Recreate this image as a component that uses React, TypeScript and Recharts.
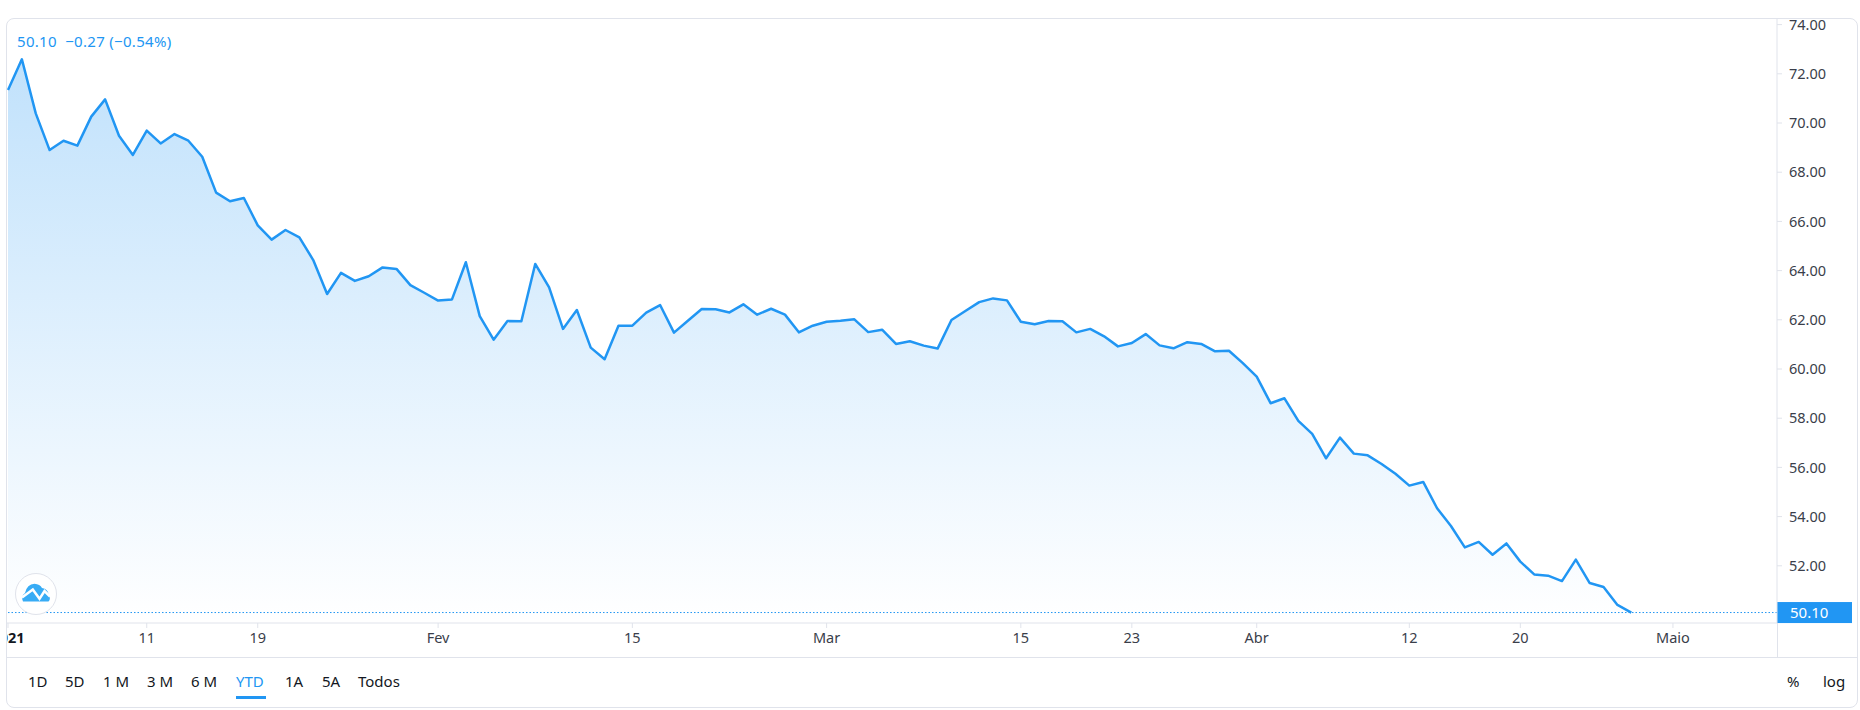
import { AreaChart, Area, XAxis, YAxis, ReferenceLine } from 'recharts';

const closes = [
  71.34, 72.59, 70.39, 68.9, 69.28, 69.08, 70.26, 70.96, 69.48, 68.7,
  69.69, 69.17, 69.55, 69.28, 68.63, 67.17, 66.82, 66.95, 65.84, 65.26,
  65.65, 65.35, 64.43, 63.05, 63.91, 63.58, 63.77, 64.13, 64.07, 63.41,
  63.1, 62.78, 62.83, 64.34, 62.15, 61.19, 61.95, 61.94, 64.27, 63.32,
  61.63, 62.4, 60.87, 60.4, 61.76, 61.76, 62.29, 62.6, 61.48, 61.96,
  62.44, 62.43, 62.3, 62.63, 62.21, 62.45, 62.21, 61.49, 61.76, 61.92,
  61.96, 62.02, 61.5, 61.6, 61.02, 61.13, 60.95, 60.83, 61.99, 62.36,
  62.72, 62.87, 62.79, 61.92, 61.82, 61.95, 61.94, 61.49, 61.63, 61.33,
  60.92, 61.06, 61.42, 60.96, 60.84, 61.09, 61.02, 60.72, 60.74, 60.24,
  59.69, 58.61, 58.81, 57.89, 57.36, 56.37, 57.21, 56.56, 56.49, 56.14,
  55.74, 55.26, 55.41, 54.34, 53.62, 52.75, 52.97, 52.45, 52.91, 52.17,
  51.65, 51.6, 51.38, 52.25, 51.3, 51.14, 50.41, 50.1,
];

const priceTicks = [52, 54, 56, 58, 60, 62, 64, 66, 68, 70, 72, 74];
const timeTickBars = [0, 10, 18, 31, 45, 59, 73, 81, 90, 101, 109, 120];
const timeTickLabels = ['2021', '11', '19', 'Fev', '15', 'Mar', '15', '23', 'Abr', '12', '20', 'Maio'];
const ranges = ['1D', '5D', '1 M', '3 M', '6 M', 'YTD', '1A', '5A', 'Todos'];
const rangeLefts = [28, 65, 103, 147, 191, 236, 285, 322, 358];

const LINE_COLOR = '#2196f3';
const BORDER_COLOR = '#e0e3eb';
const TEXT_COLOR = '#3a3e4a';
const FONT = '"Noto Sans", sans-serif';

const data = closes.map((close, bar) => ({ bar, close }));

function TimeTick({ x, y, payload }: any) {
  const i = timeTickBars.indexOf(payload.value);
  const isYear = timeTickLabels[i] === '2021';
  return (
    <text
      x={x}
      y={y + 13}
      textAnchor="middle"
      fontFamily={FONT}
      fontSize={14.5}
      fontWeight={isYear ? 700 : 400}
      fill={isYear ? '#131722' : TEXT_COLOR}
    >
      {timeTickLabels[i]}
    </text>
  );
}

function PriceTag({ viewBox }: any) {
  const right = viewBox.x + viewBox.width;
  return (
    <g>
      <rect x={right} y={viewBox.y - 10.5} width={75} height={21} fill={LINE_COLOR} />
      <text x={right + 13} y={viewBox.y + 5.5} fontFamily={FONT} fontSize={15} fill="#fff">
        50.10
      </text>
    </g>
  );
}

export default function App() {
  return (
    <div style={{ position: 'fixed', left: 0, top: 0, width: 1860, height: 710, background: '#fff', fontFamily: FONT }}>
      <div
        style={{
          position: 'absolute',
          left: 6,
          top: 18,
          width: 1850,
          height: 688,
          border: `1px solid ${BORDER_COLOR}`,
          borderRadius: 8,
          overflow: 'hidden',
        }}
      >
        <AreaChart width={1850} height={638} data={data} margin={{ top: 0, right: 0, bottom: 0, left: 0 }}>
          <defs>
            <linearGradient id="areaFill" x1="0" y1="0" x2="0" y2="1">
              <stop offset="0%" stopColor={LINE_COLOR} stopOpacity={0.28} />
              <stop offset="100%" stopColor={LINE_COLOR} stopOpacity={0} />
            </linearGradient>
          </defs>
          <XAxis
            dataKey="bar"
            type="number"
            domain={[-0.072, 127.5]}
            ticks={timeTickBars}
            interval={0}
            height={34}
            stroke={BORDER_COLOR}
            tickSize={5}
            tick={<TimeTick />}
          />
          <YAxis
            orientation="right"
            domain={[49.675, 74.228]}
            ticks={priceTicks}
            interval={0}
            width={80}
            stroke={BORDER_COLOR}
            tickSize={5}
            tickMargin={7}
            tick={{ fontFamily: FONT, fontSize: 14.5, fill: TEXT_COLOR }}
            tickFormatter={(v: number) => v.toFixed(2)}
          />
          <Area
            type="linear"
            dataKey="close"
            baseValue={49.675}
            stroke={LINE_COLOR}
            strokeWidth={2.5}
            strokeLinejoin="round"
            fill="url(#areaFill)"
            fillOpacity={1}
            isAnimationActive={false}
            dot={false}
            activeDot={false}
          />
          <ReferenceLine y={50.1} stroke={LINE_COLOR} strokeDasharray="1.5 2" label={<PriceTag />} />
        </AreaChart>
        <div style={{ position: 'absolute', left: 1770, top: 604, width: 1, height: 34, background: BORDER_COLOR }} />
        <div style={{ position: 'absolute', left: 0, top: 638, width: 1850, height: 1, background: BORDER_COLOR }} />
        <div
          style={{
            position: 'absolute',
            left: 10,
            top: 12,
            fontSize: 15,
            letterSpacing: 0.3,
            lineHeight: '20px',
            color: LINE_COLOR,
            whiteSpace: 'pre',
          }}
        >
          50.10  −0.27 (−0.54%)
        </div>
        <div
          style={{
            position: 'absolute',
            left: 8,
            top: 554,
            width: 42,
            height: 42,
            boxSizing: 'border-box',
            border: `1.5px solid ${BORDER_COLOR}`,
            borderRadius: '50%',
            background: '#fff',
          }}
        >
          <svg width={39} height={39} viewBox="0 0 39 39">
            <path
              d="M7 27.5 Q4.5 22 9 19 Q11 10 18.5 9.7 Q24 10 26 14 Q32 15 33 21 Q35 25 32.5 27.5 Z"
              fill="#38acf5"
            />
            <path d="M6 23.5 L16.8 15.5 L23.5 24.8 L28.5 17 L34 22.5" fill="none" stroke="#fff" strokeWidth={2.5} />
          </svg>
        </div>
        {ranges.map((label, i) => (
          <div
            key={label}
            style={{
              position: 'absolute',
              left: rangeLefts[i] - 7,
              top: 652,
              fontSize: 15,
              lineHeight: '20px',
              whiteSpace: 'pre',
              color: label === 'YTD' ? LINE_COLOR : '#131722',
            }}
          >
            {label}
          </div>
        ))}
        <div style={{ position: 'absolute', left: 229, top: 677, width: 30, height: 3, background: LINE_COLOR }} />
        <div style={{ position: 'absolute', left: 1780, top: 652, fontSize: 15, lineHeight: '20px', color: '#131722' }}>%</div>
        <div style={{ position: 'absolute', left: 1816, top: 652, fontSize: 15, lineHeight: '20px', color: '#131722' }}>log</div>
      </div>
    </div>
  );
}
